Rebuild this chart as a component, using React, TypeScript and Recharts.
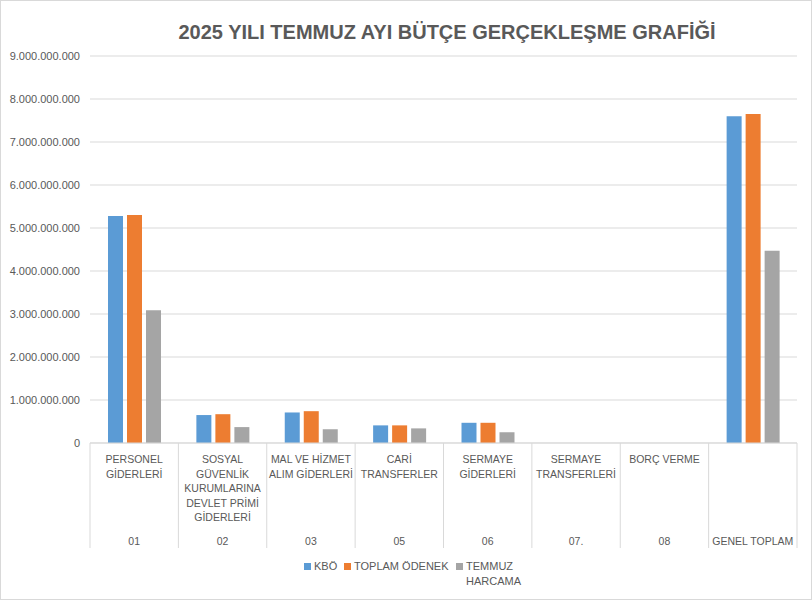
import { Bar, BarChart, CartesianGrid, Legend, XAxis, YAxis } from "recharts";

const codes = ["01", "02", "03", "05", "06", "07.", "08", "GENEL TOPLAM"];
const names = [
  ["PERSONEL", "GİDERLERİ"],
  ["SOSYAL", "GÜVENLİK", "KURUMLARINA", "DEVLET PRİMİ", "GİDERLERİ"],
  ["MAL VE HİZMET", "ALIM GİDERLERİ"],
  ["CARİ", "TRANSFERLER"],
  ["SERMAYE", "GİDERLERİ"],
  ["SERMAYE", "TRANSFERLERİ"],
  ["BORÇ VERME"],
  [],
];
const kbo = [5.28e9, 0.65e9, 0.71e9, 0.41e9, 0.47e9, 0, 0, 7.6e9];
const toplamOdenek = [5.3e9, 0.67e9, 0.74e9, 0.41e9, 0.47e9, 0, 0, 7.65e9];
const temmuzHarcama = [3.09e9, 0.37e9, 0.32e9, 0.34e9, 0.25e9, 0, 0, 4.47e9];
const yTicks = [0, 1e9, 2e9, 3e9, 4e9, 5e9, 6e9, 7e9, 8e9, 9e9];

const data = codes.map((code, i) => ({
  code,
  kbo: kbo[i],
  odenek: toplamOdenek[i],
  harcama: temmuzHarcama[i],
}));

const FONT = '"Liberation Sans", Arial, sans-serif';
const TEXT = "#595959";
const GRID = "#d9d9d9";
const W = 812;
const H = 601;
const LEFT = 90;
const RIGHT = 15;
const BAND = (W - LEFT - RIGHT) / codes.length;

const fmt = (v: number) => String(Math.round(v)).replace(/\B(?=(\d{3})+(?!\d))/g, ".");

function CategoryTick(props: any) {
  const { x, y, index } = props;
  const lines = names[index] || [];
  const left = x - BAND / 2;
  return (
    <g>
      <line x1={left} y1={y} x2={left} y2={y + 105} stroke={GRID} />
      {index === codes.length - 1 && (
        <line x1={left + BAND} y1={y} x2={left + BAND} y2={y + 105} stroke={GRID} />
      )}
      {lines.map((t: string, k: number) => (
        <text key={k} x={x} y={y + 20 + k * 14.5} textAnchor="middle" fill={TEXT} fontSize={10.5} fontFamily={FONT}>
          {t}
        </text>
      ))}
      <text x={x} y={y + 102} textAnchor="middle" fill={TEXT} fontSize={10.5} fontFamily={FONT}>
        {codes[index]}
      </text>
    </g>
  );
}

const legendItems = [
  { label: "KBÖ", color: "#5b9bd5", width: 24 },
  { label: "TOPLAM ÖDENEK", color: "#ed7d31", width: 96 },
  { label: "TEMMUZ HARCAMA", color: "#a5a5a5", width: 52 },
];

function LegendBox() {
  return (
    <div style={{ display: "flex", alignItems: "flex-start", fontFamily: FONT, fontSize: 11, color: TEXT }}>
      {legendItems.map((it) => (
        <div key={it.label} style={{ display: "flex", alignItems: "flex-start", marginRight: 6 }}>
          <span style={{ width: 7, height: 7, background: it.color, marginTop: 4, marginRight: 3, flex: "none" }} />
          <span style={{ width: it.width, lineHeight: "15px" }}>{it.label}</span>
        </div>
      ))}
    </div>
  );
}

export default function App() {
  return (
    <div style={{ position: "absolute", left: 0, top: 0, width: W, height: H, background: "#fff" }}>
      <div
        style={{
          position: "absolute",
          left: 82,
          width: 730,
          top: 18,
          textAlign: "center",
          fontFamily: FONT,
          fontWeight: "bold",
          fontSize: 20,
          color: TEXT,
          lineHeight: "28px",
        }}
      >
        2025 YILI TEMMUZ AYI BÜTÇE GERÇEKLEŞME GRAFİĞİ
      </div>
      <BarChart
        width={W}
        height={H}
        data={data}
        margin={{ top: 56, right: RIGHT, left: 0, bottom: 48 }}
        barSize={15}
        barGap={4}
      >
        <CartesianGrid vertical={false} stroke={GRID} />
        <XAxis
          dataKey="code"
          height={110}
          tickLine={false}
          tickSize={0}
          tickMargin={0}
          axisLine={{ stroke: GRID }}
          interval={0}
          tick={<CategoryTick />}
        />
        <YAxis
          width={LEFT}
          domain={[0, 9e9]}
          ticks={yTicks}
          tickFormatter={fmt}
          axisLine={false}
          tickLine={false}
          tickSize={0}
          tickMargin={10}
          tick={{ fill: TEXT, fontSize: 11, fontFamily: FONT }}
        />
        <Legend
          verticalAlign="middle"
          layout="horizontal"
          content={<LegendBox />}
          wrapperStyle={{ position: "absolute", left: 304, top: 559, width: 260 }}
        />
        <Bar dataKey="kbo" name="KBÖ" fill="#5b9bd5" isAnimationActive={false} />
        <Bar dataKey="odenek" name="TOPLAM ÖDENEK" fill="#ed7d31" isAnimationActive={false} />
        <Bar dataKey="harcama" name="TEMMUZ HARCAMA" fill="#a5a5a5" isAnimationActive={false} />
      </BarChart>
      <div
        style={{
          position: "absolute",
          left: 0,
          top: 0,
          width: W - 2,
          height: H - 3,
          border: "1px solid #d9d9d9",
          pointerEvents: "none",
        }}
      />
    </div>
  );
}
